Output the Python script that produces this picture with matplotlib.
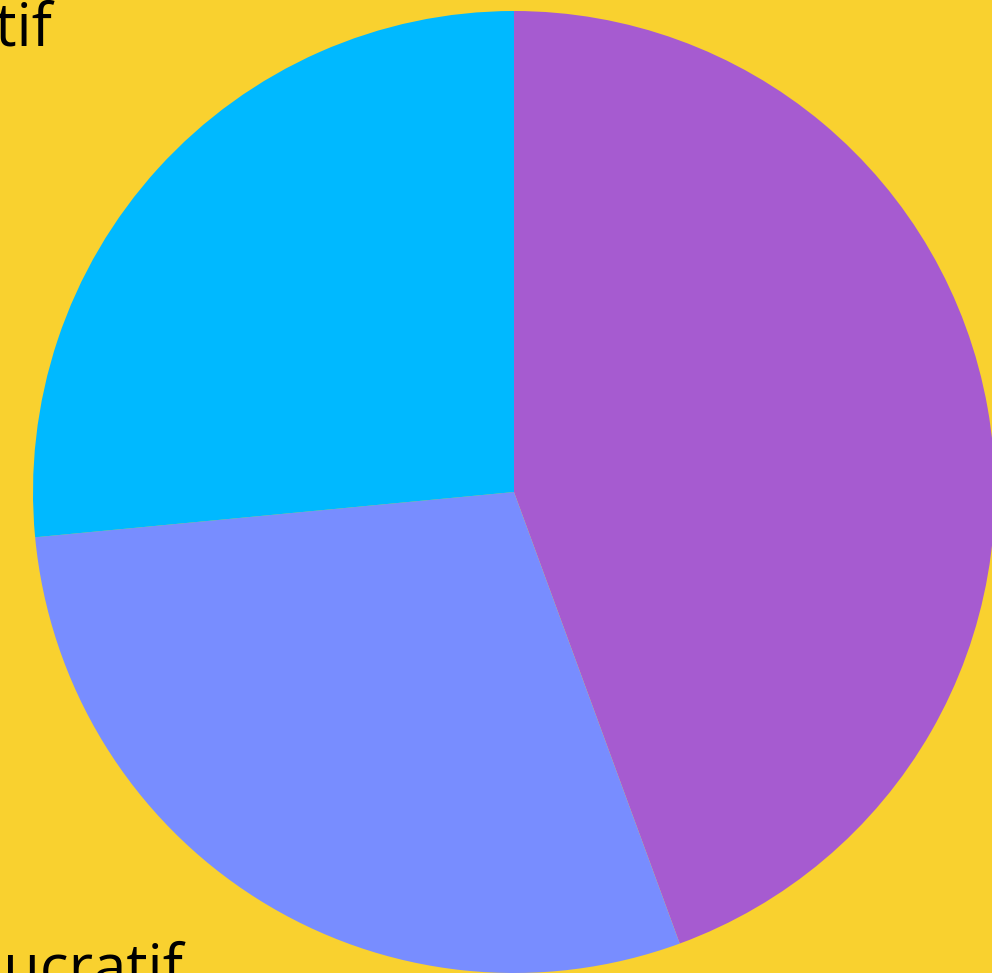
import matplotlib.pyplot as plt
import numpy as np

# données (parts en %)
labels = ['Associatif', 'Non lucratif', 'Lucratif']
values = [44.4, 29.1, 26.5]
colors = ['#A65BD0', '#788DFF', '#00B9FF']
bg = '#F9D12F'

# positions des étiquettes (en rayons) - le graphique est rogné
label_xy = [(1.1, 0.0), (-0.688, -1.029), (-0.960, 0.929)]
label_ha = ['left', 'right', 'right']

plt.rcParams['font.family'] = ['Open Sans', 'DejaVu Sans']

fig = plt.figure(figsize=(9.92, 9.73), dpi=100)
fig.patch.set_facecolor(bg)
ax = fig.add_axes([33 / 992, 0, 962 / 992, 962 / 973])
ax.set_facecolor(bg)

wedges, texts = ax.pie(values, labels=labels, colors=colors, startangle=90,
                       counterclock=False, radius=1,
                       wedgeprops=dict(linewidth=0),
                       textprops=dict(fontsize=43, color='black'))

for t, (x, y), ha in zip(texts, label_xy, label_ha):
    t.set_position((x, y))
    t.set_ha(ha)
    t.set_va('baseline')

ax.set_xlim(-1, 1)
ax.set_ylim(-1, 1)
ax.set_aspect('equal')
ax.axis('off')

fig.savefig('out.png', dpi=100, facecolor=bg)
